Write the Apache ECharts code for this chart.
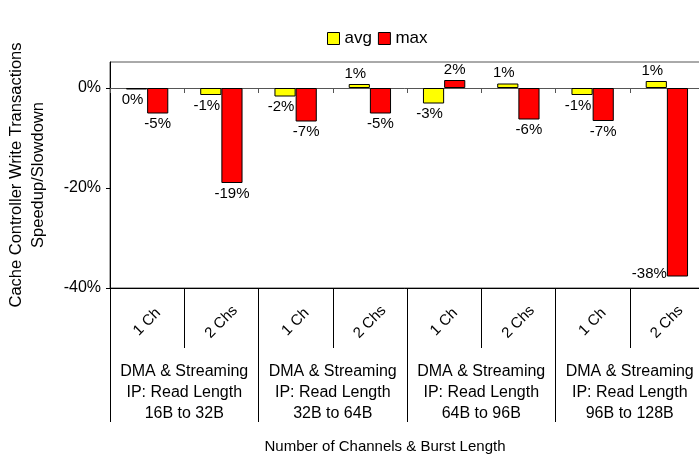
<!DOCTYPE html>
<html>
<head>
<meta charset="utf-8">
<script src="https://cdn.jsdelivr.net/npm/echarts@6/dist/echarts.min.js"></script>
<style>
  html, body { margin: 0; padding: 0; background: #fff; }
  #chart { width: 699px; height: 455px; }
</style>
</head>
<body>
<div id="chart"></div>
<script>
// channel categories (lower level of the x axis)
var channels = ["1 Ch", "2 Chs", "1 Ch", "2 Chs", "1 Ch", "2 Chs", "1 Ch", "2 Chs"];
// burst length groups (upper level of the x axis)
var groups = [
  "DMA & Streaming\nIP: Read Length\n16B to 32B",
  "DMA & Streaming\nIP: Read Length\n32B to 64B",
  "DMA & Streaming\nIP: Read Length\n64B to 96B",
  "DMA & Streaming\nIP: Read Length\n96B to 128B"
];
// speedup / slowdown in percent
var avgValues = [-0.3, -1.4, -1.7, 0.8, -3.1, 0.9, -1.4, 1.4];
var maxValues = [-5.1, -19.0, -6.7, -5.1, 1.6, -6.3, -6.6, -37.7];
var yTicks = [-40, -20, 0];

var font = "Liberation Sans, Arial, sans-serif";

function pct(p) {
  return Math.round(p.value) + "%";
}

var chart = echarts.init(document.getElementById("chart"));

var maxData = maxValues.map(function (v) {
  // the deepest bar has its label on the left of the bar end
  if (v < -30) {
    return {
      value: v,
      label: {
        position: ["0%", "100%"],
        align: "right",
        verticalAlign: "middle",
        offset: [0, -3]
      }
    };
  }
  return v;
});

var option = {
  animation: false,
  backgroundColor: "#fff",
  textStyle: { fontFamily: font },
  legend: {
    left: 322,
    top: 25,
    itemWidth: 12,
    itemHeight: 12,
    itemGap: 6,
    icon: "rect",
    textStyle: { fontSize: 17, color: "#000", fontFamily: font },
    itemStyle: { borderColor: "#000", borderWidth: 1 },
    data: ["avg", "max"]
  },
  grid: {
    left: 110,
    top: 62,
    height: 226,
    right: -5,
    outerBoundsMode: "none",
    containLabel: false,
    show: true,
    borderColor: "#555",
    borderWidth: 1
  },
  xAxis: [
    {
      type: "category",
      data: channels,
      position: "bottom",
      axisLine: { onZero: false, lineStyle: { color: "#000", width: 1 } },
      axisTick: { show: true, length: 60, lineStyle: { color: "#000" } },
      axisLabel: {
        interval: 0,
        rotate: 45,
        align: "center",
        verticalAlign: "middle",
        margin: 34,
        fontSize: 15,
        color: "#000",
        fontFamily: font
      }
    },
    {
      type: "category",
      data: groups,
      position: "bottom",
      axisLine: { show: false, onZero: false },
      axisTick: { show: true, length: 134, lineStyle: { color: "#000" } },
      axisLabel: {
        interval: 0,
        margin: 73,
        fontSize: 16,
        lineHeight: 21,
        color: "#000",
        fontFamily: font
      },
      name: "Number of Channels & Burst Length",
      nameLocation: "middle",
      nameGap: 151,
      nameTextStyle: {
        fontSize: 15,
        color: "#000",
        fontFamily: font,
        padding: [0, 44, 0, 0]
      }
    },
    {
      // zero line with its small ticks
      type: "category",
      data: channels,
      position: "bottom",
      axisLine: { onZero: true, lineStyle: { color: "#555", width: 1 } },
      axisTick: { show: true, length: 5, lineStyle: { color: "#555" } },
      axisLabel: { show: false }
    }
  ],
  yAxis: {
    type: "value",
    min: -40,
    max: 5.2,
    interval: 20,
    axisLine: { show: true, lineStyle: { color: "#000" } },
    axisTick: { show: true, length: 4, customValues: yTicks, lineStyle: { color: "#000" } },
    axisLabel: {
      customValues: yTicks,
      formatter: function (v) { return v + "%"; },
      fontSize: 16,
      color: "#000",
      margin: 9,
      fontFamily: font
    },
    splitLine: { show: false },
    name: "Cache Controller Write Transactions\nSpeedup/Slowdown",
    nameLocation: "middle",
    nameGap: 61,
    nameTextStyle: { fontSize: 16.5, lineHeight: 22, color: "#000", fontFamily: font }
  },
  series: [
    {
      name: "avg",
      type: "bar",
      xAxisIndex: 0,
      data: avgValues,
      barGap: "0%",
      barCategoryGap: "43%",
      itemStyle: { color: "#ffff00", borderColor: "#000", borderWidth: 1 },
      label: {
        show: true,
        position: "outside",
        distance: 3,
        formatter: pct,
        fontSize: 15,
        color: "#000",
        fontFamily: font,
        offset: [-4, 0]
      }
    },
    {
      name: "max",
      type: "bar",
      xAxisIndex: 0,
      data: maxData,
      itemStyle: { color: "#ff0000", borderColor: "#000", borderWidth: 1 },
      label: {
        show: true,
        position: "outside",
        distance: 3,
        formatter: pct,
        fontSize: 15,
        color: "#000",
        fontFamily: font
      }
    }
  ]
};

chart.setOption(option);
</script>
</body>
</html>
